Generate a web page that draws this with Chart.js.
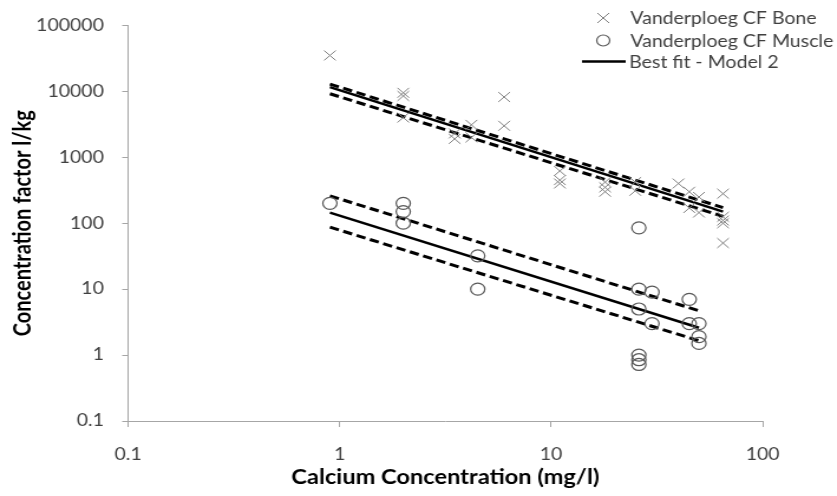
<!DOCTYPE html>
<html>
<head>
<meta charset="utf-8">
<script src="https://cdn.jsdelivr.net/npm/chart.js@4/dist/chart.umd.min.js"></script>
<style>
  html, body { margin: 0; padding: 0; background: #fff; }
  /* the source picture is stretched sideways, so draw narrow and widen it */
  #wrap { width: 709px; height: 496px; transform: scaleX(1.1805); transform-origin: 0 0; }
</style>
</head>
<body>
<div id="wrap"><canvas id="chart" width="709" height="496"></canvas></div>
<script>
// ── Data ─────────────────────────────────────────────────────────────────────
const xTicks = [0.1, 1, 10, 100];
const yTicks = [0.1, 1, 10, 100, 1000, 10000, 100000];

const boneX = [0.9, 2, 2, 2, 3.5, 3.5, 4.2, 4.2, 6, 6, 11, 11, 11, 18, 18, 18, 25, 25, 40, 45, 45, 50, 50, 65, 65, 65, 65, 65];
const boneY = [35000, 9500, 8500, 4000, 2300, 1900, 3100, 2000, 8200, 3000, 620, 450, 400, 420, 350, 300, 420, 310, 400, 300, 170, 250, 145, 280, 125, 110, 100, 50];

const muscleX = [0.9, 2, 2, 2, 4.5, 4.5, 26, 26, 26, 26, 26, 26, 30, 30, 45, 45, 50, 50, 50];
const muscleY = [200, 200, 150, 100, 32, 10, 85, 10, 5, 1, 0.85, 0.72, 9, 3, 7, 3, 3, 1.9, 1.5];

const boneFitX = [0.9, 65];
const boneFit = [11600, 150];
const boneFitHi = [12900, 172];
const boneFitLo = [9200, 127];

const muscleFitX = [0.9, 50];
const muscleFit = [145, 2.6];
const muscleFitHi = [260, 4.7];
const muscleFitLo = [87, 1.65];

// ── Helpers ──────────────────────────────────────────────────────────────────
const pts = (xs, ys) => xs.map((x, i) => ({ x, y: ys[i] }));
const FONT = 'Lato, "Open Sans", sans-serif';
const AXIS = '#a6a6a6';

function fitLine(xs, ys, dashed) {
  return {
    data: pts(xs, ys),
    showLine: true,
    pointRadius: 0,
    borderColor: '#000',
    borderWidth: dashed ? 3 : 2.5,
    borderDash: dashed ? [8, 4] : [],
    fill: false,
  };
}

// ── Legend (drawn on the canvas, top right) ─────────────────────────────────
const legendPlugin = {
  id: 'cornerLegend',
  afterDraw(chart) {
    const ctx = chart.ctx;
    const items = ['Vanderploeg CF Bone', 'Vanderploeg CF Muscle', 'Best fit - Model 2'];
    const rows = [18, 40.5, 61.5];
    ctx.save();

    // cross
    ctx.strokeStyle = '#7f7f7f';
    ctx.lineWidth = 1;
    ctx.beginPath();
    ctx.moveTo(506, rows[0] - 5); ctx.lineTo(516, rows[0] + 5);
    ctx.moveTo(516, rows[0] - 5); ctx.lineTo(506, rows[0] + 5);
    ctx.stroke();

    // circle
    ctx.strokeStyle = '#595959';
    ctx.lineWidth = 1.2;
    ctx.beginPath();
    ctx.arc(511, rows[1], 5.5, 0, Math.PI * 2);
    ctx.stroke();

    // solid line
    ctx.strokeStyle = '#000';
    ctx.lineWidth = 2.5;
    ctx.beginPath();
    ctx.moveTo(493, rows[2]); ctx.lineTo(530, rows[2]);
    ctx.stroke();

    ctx.fillStyle = '#404040';
    ctx.font = '16.5px ' + FONT;
    ctx.textBaseline = 'middle';
    items.forEach((t, i) => ctx.fillText(t, i === 2 ? 533 : 534, rows[i] + 1));
    ctx.restore();
  }
};

// ── Chart ────────────────────────────────────────────────────────────────────
new Chart(document.getElementById('chart'), {
  type: 'scatter',
  data: {
    datasets: [
      {
        data: pts(boneX, boneY),
        pointStyle: 'crossRot',
        pointRadius: 7,
        borderColor: '#7f7f7f',
        borderWidth: 1,
      },
      {
        data: pts(muscleX, muscleY),
        pointStyle: 'circle',
        pointRadius: 6,
        borderColor: '#595959',
        backgroundColor: 'rgba(0,0,0,0)',
        borderWidth: 1.2,
      },
      fitLine(boneFitX, boneFit, false),
      fitLine(boneFitX, boneFitHi, true),
      fitLine(boneFitX, boneFitLo, true),
      fitLine(muscleFitX, muscleFit, false),
      fitLine(muscleFitX, muscleFitHi, true),
      fitLine(muscleFitX, muscleFitLo, true),
    ]
  },
  options: {
    responsive: false,
    animation: false,
    layout: { padding: { top: 17, right: 63, left: 0, bottom: 0 } },
    plugins: { legend: { display: false }, tooltip: { enabled: false } },
    scales: {
      x: {
        type: 'logarithmic',
        position: 'bottom',
        min: 0.1,
        max: 100,
        afterBuildTicks: s => { s.ticks = xTicks.map(v => ({ value: v })); },
        afterFit: s => { s.height = 75; },
        grid: { drawOnChartArea: false, tickLength: 6, color: AXIS },
        border: { color: AXIS, width: 1 },
        ticks: {
          callback: v => String(v),
          maxRotation: 0,
          autoSkip: false,
          padding: 18,
          color: '#404040',
          font: { family: FONT, size: 16.5 },
        },
        title: {
          display: true,
          text: 'Calcium Concentration (mg/l)',
          color: '#000',
          font: { family: FONT, size: 20, weight: 'bold' },
          padding: { top: 0, bottom: 6 },
        },
      },
      y: {
        type: 'logarithmic',
        position: 'left',
        min: 0.1,
        max: 100000,
        afterBuildTicks: s => { s.ticks = yTicks.map(v => ({ value: v })); },
        afterFit: s => { s.width = 108.5; },
        grid: { drawOnChartArea: false, tickLength: 5, color: AXIS },
        border: { color: AXIS, width: 1 },
        ticks: {
          callback: v => String(v),
          autoSkip: false,
          padding: 15.5,
          color: '#404040',
          font: { family: FONT, size: 16.5 },
        },
        title: {
          display: true,
          text: 'Concentration factor l/kg',
          color: '#000',
          font: { family: FONT, size: 20, weight: 'bold' },
          padding: { top: 7.5, bottom: 0 },
        },
      },
    },
  },
  plugins: [legendPlugin],
});
</script>
</body>
</html>
